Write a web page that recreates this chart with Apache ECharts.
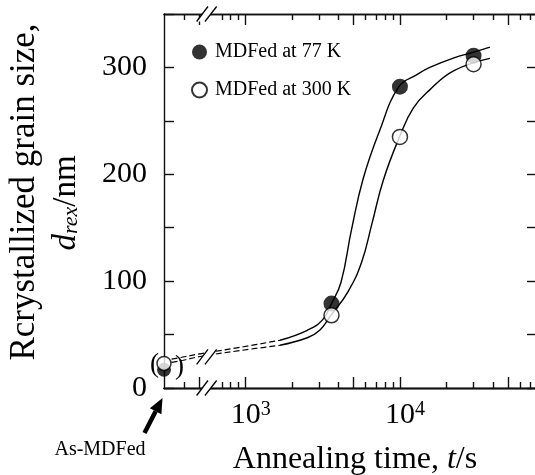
<!DOCTYPE html>
<html><head><meta charset="utf-8">
<script src="https://cdn.jsdelivr.net/npm/echarts@6/dist/echarts.min.js"></script>
<style>html,body{margin:0;padding:0;background:#fff}#c{width:535px;height:475px}</style>
</head><body><div id="c"></div>
<script>
// ---------------- data ----------------
const pointTimes = [3600, 10000, 30000];      // annealing time, s
const d77 = [79, 282, 311];                   // MDFed at 77 K, d_rex / nm
const d300 = [68, 235, 303];                  // MDFed at 300 K, d_rex / nm
const asMdfed77 = [17];                       // as-MDFed (t = 0) value, 77 K
const asMdfed300 = [23];                      // as-MDFed (t = 0) value, 300 K

// fitted curves (solid)
const fit77T = [1670, 2510, 3160, 3600, 4150, 4850, 5780, 7350, 9840, 12800, 15600, 22400, 29600, 38300];
const fit77D = [44.7, 54, 64, 79, 99, 148, 196, 240, 282, 293, 300, 309, 314, 319];
const fit300T = [1670, 2510, 3020, 3570, 4600, 5650, 6590, 7800, 10000, 12200, 15600, 22400, 38300];
const fit300D = [40, 47, 54, 68, 90, 118, 154, 194.5, 236, 262, 279, 297, 308.5];
// dashed connections from as-MDFed state (across the axis break)
const dash77T = [331, 393, 506, 918, 1670];
const dash77D = [27, 29, 32, 38, 44.7];
const dash300T = [331, 393, 506, 918, 1670];
const dash300D = [24, 26, 29.5, 35, 40];

// axis ticks
const majorTickT = [500, 1000, 5000, 10000, 50000];
const minorTickT = [400, 700, 800, 900, 2000, 3000, 4000, 6000, 7000, 8000, 9000, 20000, 30000, 40000, 60000, 70000];
const labelExp = [3, 4];
const yTicks = [0, 100, 200, 300];

// ---------------- chart ----------------
const FONT = '"Liberation Serif", "Times New Roman", serif';
const X_MIN = 2.4708, X_MAX = 4.8882;   // log10(t) extent; t = 0 drawn at left edge (broken axis)
const BREAK_L = 2.746;
const lg = t => Math.log10(t);
const pairs = (T, D) => T.map((t, i) => [lg(t), D[i]]);
const LS = {color: '#111', width: 1.4};
const GRID = {left: 164, top: 14, width: 373, height: 374, containLabel: false, outerBoundsMode: 'none'};

// tick-only x axis, each in its own overlay grid with the same rectangle
function tickAxis(gi, pos, tickT, len) {
  return {
    type: 'value', gridIndex: gi, position: pos, min: X_MIN, max: X_MAX,
    axisLine: {show: true, onZero: false, lineStyle: LS},
    axisTick: {show: true, inside: true, length: len, customValues: tickT.map(lg), lineStyle: LS},
    axisLabel: {show: false}, splitLine: {show: false}
  };
}

const chart = echarts.init(document.getElementById('c'), null, {renderer: 'canvas'});
const option = {
  animation: false,
  backgroundColor: '#fff',
  grid: [GRID, GRID, GRID, GRID, GRID].map(g => Object.assign({}, g)),
  legend: {
    data: ['MDFed at 77 K', 'MDFed at 300 K'], orient: 'vertical', left: 186, top: 37,
    itemWidth: 15, itemHeight: 15, itemGap: 18, selectedMode: false,
    textStyle: {fontSize: 20, fontFamily: FONT, color: '#000', padding: [0, 0, 0, 3]}
  },
  xAxis: [
    {
      type: 'value', gridIndex: 0, position: 'bottom', min: X_MIN, max: X_MAX,
      axisLine: {show: true, onZero: false, lineStyle: LS},
      axisTick: {show: false},
      axisLabel: {
        show: true, customValues: labelExp, margin: 12, padding: [0, 0, 0, 10],
        formatter: v => '{b|10}{s|' + Math.round(v) + '}',
        rich: {
          b: {fontSize: 30, fontFamily: FONT, color: '#000'},
          s: {fontSize: 20, fontFamily: FONT, color: '#000', verticalAlign: 'top'}
        }
      },
      splitLine: {show: false},
      name: '{r|Annealing time, }{i|t}{r|/s}',
      nameLocation: 'middle', nameGap: 56,
      nameTextStyle: {padding: [0, 0, 0, 9], rich: {
        r: {fontSize: 32, fontFamily: FONT, color: '#000'},
        i: {fontSize: 32, fontFamily: FONT, fontStyle: 'italic', color: '#000'}
      }}
    },
    tickAxis(1, 'bottom', majorTickT, 11),
    tickAxis(2, 'bottom', minorTickT, 6),
    tickAxis(3, 'top', majorTickT, 11),
    tickAxis(4, 'top', minorTickT, 6)
  ],
  yAxis: [
    {type: 'value', gridIndex: 0, position: 'left', min: 0, max: 350, interval: 50,
     axisLine: {show: true, onZero: false, lineStyle: LS},
     axisTick: {show: true, inside: true, length: 10, lineStyle: LS},
     axisLabel: {margin: 17, fontSize: 30, fontFamily: FONT, color: '#000',
       formatter: v => yTicks.indexOf(v) >= 0 ? String(v) : ''},
     splitLine: {show: false}},
    {type: 'value', gridIndex: 0, position: 'right', min: 0, max: 350, interval: 50,
     axisLine: {show: true, onZero: false, lineStyle: LS},
     axisTick: {show: true, inside: true, length: 10, lineStyle: LS},
     axisLabel: {show: false}, splitLine: {show: false}},
    {type: 'value', gridIndex: 1, show: false, min: 0, max: 350},
    {type: 'value', gridIndex: 2, show: false, min: 0, max: 350},
    {type: 'value', gridIndex: 3, show: false, min: 0, max: 350},
    {type: 'value', gridIndex: 4, show: false, min: 0, max: 350}
  ],
  series: [
    {type: 'line', name: 'fit77', data: pairs(fit77T, fit77D), smooth: 0.45,
     symbol: 'none', lineStyle: {color: '#000', width: 1.4}, silent: true, z: 2},
    {type: 'line', name: 'fit300', data: pairs(fit300T, fit300D), smooth: 0.45,
     symbol: 'none', lineStyle: {color: '#000', width: 1.4}, silent: true, z: 2},
    {type: 'line', name: 'dash77', data: pairs(dash77T, dash77D), smooth: 0.35,
     symbol: 'none', lineStyle: {color: '#000', width: 1.2, type: [6, 3]}, silent: true, z: 2},
    {type: 'line', name: 'dash300', data: pairs(dash300T, dash300D), smooth: 0.35,
     symbol: 'none', lineStyle: {color: '#000', width: 1.2, type: [6, 3]}, silent: true, z: 2},
    {type: 'scatter', name: 'MDFed at 77 K', symbol: 'circle', symbolSize: 16, clip: false, z: 5,
     itemStyle: {color: '#000'},
     data: [{value: [X_MIN, asMdfed77[0]], symbolSize: 14}].concat(pairs(pointTimes, d77))},
    {type: 'scatter', name: 'MDFed at 300 K', symbol: 'circle', symbolSize: 15, clip: false, z: 6,
     itemStyle: {color: '#fff', borderColor: '#000', borderWidth: 1.5},
     data: [{value: [X_MIN, asMdfed300[0]], symbolSize: 14}].concat(pairs(pointTimes, d300))}
  ]
};
chart.setOption(option);

// ---------------- annotations (positions derived from the axes) ----------------
const px = (L, v) => chart.convertToPixel({xAxisIndex: 0, yAxisIndex: 0}, [L, v]);
function breakMark(cx, cy) {
  const a = [cx - 9.8, cy + 7.5], b = [cx + 1.5, cy - 7.5], c = [cx + 10.2, cy - 7.5], d = [cx - 1.5, cy + 7.5];
  return [
    {type: 'polygon', z: 100, shape: {points: [a, b, c, d]}, style: {fill: '#fff'}},
    {type: 'line', z: 101, shape: {x1: a[0], y1: a[1], x2: b[0], y2: b[1]}, style: {stroke: '#000', lineWidth: 1.3}},
    {type: 'line', z: 101, shape: {x1: d[0], y1: d[1], x2: c[0], y2: c[1]}, style: {stroke: '#000', lineWidth: 1.3}}
  ];
}
const o = px(X_MIN, 0);
const bBot = px(BREAK_L, 0), bTop = px(BREAK_L, 350), bCurve = px(BREAK_L, 31);
const p77 = px(X_MIN, asMdfed77[0]), p300 = px(X_MIN, asMdfed300[0]);
const midY = (p77[1] + p300[1]) / 2;

// arrow
const tip = [o[0] - 1.5, o[1] + 10], tail = [o[0] - 19.5, o[1] + 45];
const dx = tip[0] - tail[0], dy = tip[1] - tail[1], len = Math.hypot(dx, dy);
const ux = dx / len, uy = dy / len, nx = -uy, ny = ux;
const base = [tip[0] - 15 * ux, tip[1] - 15 * uy];

const graphics = []
  .concat(breakMark(bBot[0], bBot[1]))
  .concat(breakMark(bTop[0], bTop[1]))
  .concat(breakMark(bCurve[0], bCurve[1] + 2))
  .concat([
    {type: 'line', z: 100, shape: {x1: tail[0], y1: tail[1], x2: base[0], y2: base[1]},
     style: {stroke: '#000', lineWidth: 4.5}},
    {type: 'polygon', z: 100, shape: {points: [tip, [base[0] + 6.5 * nx, base[1] + 6.5 * ny], [base[0] - 6.5 * nx, base[1] - 6.5 * ny]]},
     style: {fill: '#000'}},
    {type: 'text', z: 100, x: o[0] - 64, y: o[1] + 62,
     style: {text: 'As-MDFed', fontSize: 20, fontFamily: FONT, fill: '#000', align: 'center', verticalAlign: 'middle'}},
    {type: 'text', z: 100, x: p77[0] - 9.5, y: midY - 2,
     style: {text: '(', fontSize: 27, fontFamily: FONT, fill: '#000', align: 'center', verticalAlign: 'middle'}},
    {type: 'text', z: 100, x: p77[0] + 15.5, y: midY,
     style: {text: ')', fontSize: 27, fontFamily: FONT, fill: '#000', align: 'center', verticalAlign: 'middle'}},
    {type: 'text', z: 100, x: 25, y: 192, rotation: Math.PI / 2,
     style: {text: 'Rcrystallized grain size,', fontSize: 35, fontFamily: FONT, fill: '#000', align: 'center', verticalAlign: 'middle'}},
    {type: 'text', z: 100, x: 66, y: 203, rotation: Math.PI / 2,
     style: {text: '{i|d}{s|rex}{r|/nm}', align: 'center', verticalAlign: 'middle', fill: '#000',
       rich: {
         i: {fontSize: 33, fontFamily: FONT, fontStyle: 'italic', fill: '#000'},
         s: {fontSize: 22, fontFamily: FONT, fontStyle: 'italic', fill: '#000', verticalAlign: 'bottom'},
         r: {fontSize: 33, fontFamily: FONT, fill: '#000'}
       }}}
  ]);
chart.setOption({graphic: graphics});
</script></body></html>
